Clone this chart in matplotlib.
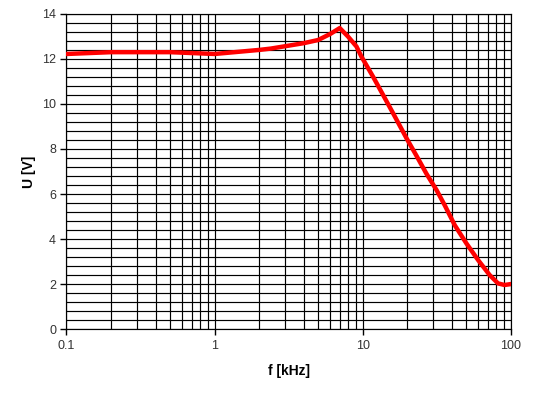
import matplotlib
matplotlib.use("Agg")
import matplotlib.pyplot as plt
from matplotlib.ticker import FixedLocator, LogLocator, NullFormatter, MultipleLocator

plt.rcParams['font.family'] = ['Liberation Sans', 'DejaVu Sans']

# values
freq_khz = [0.1, 0.2, 0.5, 1.0, 2.0, 2.4, 4.0, 5.0, 6.0, 7.0, 7.97, 9.08, 9.81,
            11.75, 13.73, 16.03, 19.75, 23.07, 26.95, 31.5, 35.8, 41.8, 50.1,
            60.1, 72.0, 82.0, 90.7, 100.0]
voltage_v = [12.22, 12.3, 12.3, 12.22, 12.4, 12.46, 12.7, 12.84, 13.1, 13.37, 12.99, 12.55, 12.1,
             11.21, 10.4, 9.59, 8.48, 7.70, 6.90, 6.18, 5.50, 4.62, 3.81,
             3.07, 2.4, 2.03, 1.96, 2.0]

fig = plt.figure(figsize=(5.36, 3.97), dpi=100)
ax = fig.add_axes([0.124, 0.171, 0.829, 0.794])

ax.plot(freq_khz, voltage_v, color='#ff0000', lw=3.2, zorder=3, solid_joinstyle='round')

ax.set_xscale('log')
ax.set_xlim(0.1, 100)
ax.set_ylim(0, 14)

ax.xaxis.set_major_locator(FixedLocator([0.1, 1, 10, 100]))
ax.set_xticklabels(['0.1', '1', '10', '100'])
ax.xaxis.set_minor_locator(LogLocator(base=10, subs=range(2, 10)))
ax.xaxis.set_minor_formatter(NullFormatter())
ax.yaxis.set_major_locator(MultipleLocator(2))
ax.yaxis.set_minor_locator(MultipleLocator(0.4))

ax.grid(True, which='both', color='black', lw=0.85)
ax.tick_params(which='minor', length=0)
ax.tick_params(which='major', length=4, width=1, colors='black', labelcolor='#333333', labelsize=9)
for s in ax.spines.values():
    s.set_color('black')
    s.set_linewidth(0.85)

ax.set_xlabel('f [kHz]', fontweight='bold', fontsize=10, labelpad=9)
ax.set_ylabel('U [V]', fontweight='bold', fontsize=10, labelpad=4)

fig.savefig('out.png', dpi=100)
